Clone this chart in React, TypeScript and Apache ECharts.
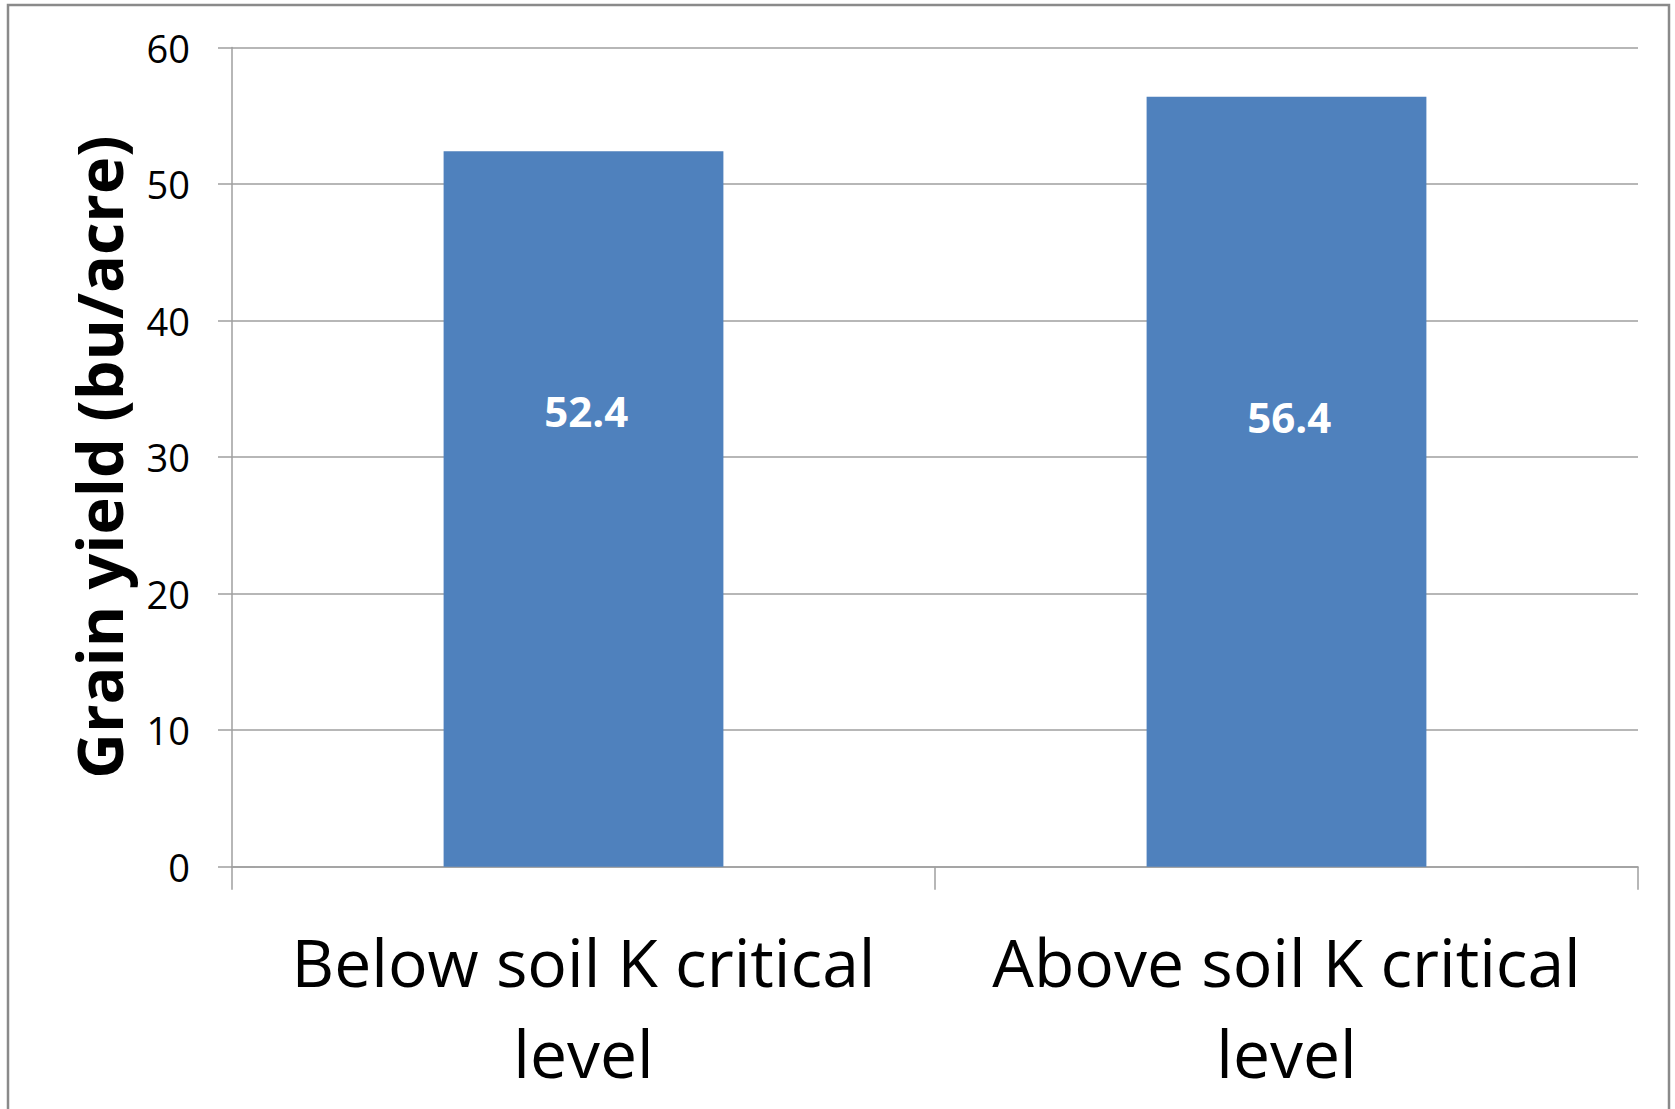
import React, { useEffect, useRef } from "react";
import * as echarts from "echarts";

const categories = ["Below soil K critical\nlevel", "Above soil K critical\nlevel"];
const yieldValues = [52.4, 56.4];
const yTicks = { min: 0, max: 60, interval: 10 };

const barColor = "#4F81BD";
const gridColor = "#9f9f9f";
// label vertical placement inside each bar (fraction from bar top), as in the original
const labelFractions = ["36.3%", "41.5%"];

export default function App() {
  const ref = useRef<HTMLDivElement>(null);
  useEffect(() => {
    if (!ref.current) return;
    const chart = echarts.init(ref.current, undefined, { renderer: "svg" });
    chart.setOption({
      animation: false,
      backgroundColor: "#ffffff",
      grid: {
        left: 232,
        right: 37,
        top: 47.5,
        bottom: 242.3,
        containLabel: false,
        outerBoundsMode: "none",
      },
      graphic: [
        {
          type: "rect",
          shape: { x: 8, y: 5, width: 1661, height: 1200 },
          style: { fill: "none", stroke: "#8a8a8a", lineWidth: 2.5 },
          z: -1,
          silent: true,
        },
      ],
      xAxis: {
        type: "category",
        data: categories,
        axisLine: { show: true, lineStyle: { color: gridColor, width: 1.5 } },
        axisTick: { show: true, length: 23, lineStyle: { color: gridColor, width: 1.5 } },
        axisLabel: {
          margin: 49,
          fontFamily: "Open Sans",
          fontSize: 66,
          lineHeight: 91,
          color: "#000",
          interval: 0,
        },
      },
      yAxis: {
        type: "value",
        min: yTicks.min,
        max: yTicks.max,
        interval: yTicks.interval,
        name: "Grain yield (bu/acre)",
        nameLocation: "middle",
        nameRotate: 90,
        nameGap: 102,
        nameTextStyle: {
          fontFamily: "Open Sans",
          fontWeight: "bold",
          fontSize: 63,
          color: "#000",
        },
        axisLine: { show: true, lineStyle: { color: gridColor, width: 1.5 } },
        axisTick: { show: true, length: 14, lineStyle: { color: gridColor, width: 1.5 } },
        axisLabel: {
          margin: 42,
          fontFamily: "Open Sans",
          fontSize: 38,
          color: "#000",
        },
        splitLine: { show: true, lineStyle: { color: gridColor, width: 1.5 } },
      },
      series: [
        {
          type: "bar",
          barWidth: "39.8%",
          itemStyle: { color: barColor },
          data: yieldValues.map((v, i) => ({
            value: v,
            label: {
              show: true,
              position: ["51%", labelFractions[i]],
              align: "center",
              verticalAlign: "middle",
              color: "#fff",
              fontFamily: "Open Sans",
              fontWeight: "bold",
              fontSize: 42,
              formatter: (p: any) => p.value.toFixed(1),
            },
          })),
        },
      ],
    });
    return () => chart.dispose();
  }, []);
  return (
    <div
      ref={ref}
      style={{ position: "absolute", left: 0, top: 0, width: 1675, height: 1109, background: "#fff" }}
    />
  );
}
